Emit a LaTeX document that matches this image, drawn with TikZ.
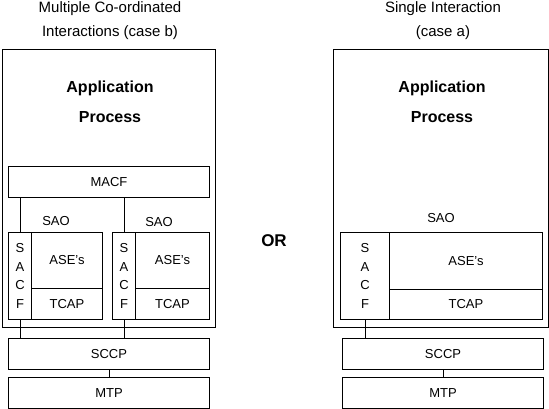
\documentclass[tikz,border=0pt]{standalone}
\usepackage{fontspec}
\setmainfont{Liberation Sans}
\usetikzlibrary{positioning}
\tikzset{
  layer box/.style={
    draw,
    line width=1pt,
    rectangle,
    inner sep=0pt,
    anchor=north west,
    font=\fontsize{13}{15}\selectfont
  },
  title text/.style={
    align=center,
    font=\fontsize{15}{24}\selectfont
  },
  ap text/.style={
    align=center,
    font=\fontsize{16}{30}\selectfont\bfseries
  },
  sao text/.style={
    font=\fontsize{13}{15}\selectfont
  },
  link/.style={
    line width=1pt
  }
}
\begin{document}
\begin{tikzpicture}[x=1pt, y=-1pt]
    % 画布大小
    \useasboundingbox (0,0) rectangle (549,409);

    % 标题
    \node[title text] (titleL) at (110,21) {Multiple Co-ordinated\\Interactions (case b)};
    \node[title text] (titleR) at (443,21) {Single Interaction\\(case a)};

    % 左侧：case b
    \node[layer box, minimum width=213pt, minimum height=278pt] (apL) at (2,49) {};
    \node[ap text] (aptextL) at (110,102) {Application\\Process};
    \node[layer box, minimum width=201pt, minimum height=31pt] (macf) at (8,166) {MACF};

    \node[layer box, minimum width=23pt, minimum height=87pt, align=center,
          font=\fontsize{13}{18.5}\selectfont] (sacfL1) at (8,232) {S\\A\\C\\F};
    \node[layer box, minimum width=71pt, minimum height=56pt] (aseL1) at (31,232) {ASE's};
    \node[layer box, minimum width=71pt, minimum height=31pt] (tcapL1) at (31,288) {TCAP};

    \node[layer box, minimum width=23pt, minimum height=87pt, align=center,
          font=\fontsize{13}{18.5}\selectfont] (sacfL2) at (112,232) {S\\A\\C\\F};
    \node[layer box, minimum width=74pt, minimum height=56pt] (aseL2) at (135,232) {ASE's};
    \node[layer box, minimum width=74pt, minimum height=31pt] (tcapL2) at (135,288) {TCAP};

    \node[sao text] (saoL1) at (56,221) {SAO};
    \node[sao text] (saoL2) at (159,222) {SAO};

    \node[layer box, minimum width=201pt, minimum height=31pt] (sccpL) at (8,338) {SCCP};
    \node[layer box, minimum width=201pt, minimum height=31pt] (mtpL) at (8,377) {MTP};

    \draw[link] (sacfL1.north) -- (sacfL1.north |- macf.south);
    \draw[link] (sacfL2.north) -- (sacfL2.north |- macf.south);
    \draw[link] (sacfL1.south) -- (sacfL1.south |- sccpL.north);
    \draw[link] (sacfL2.south) -- (sacfL2.south |- sccpL.north);
    \draw[link] (sccpL.south) -- (mtpL.north);

    % 中间
    \node[font=\fontsize{17}{20}\selectfont\bfseries] (orword) at (274,241) {OR};

    % 右侧：case a
    \node[layer box, minimum width=215pt, minimum height=278pt] (apR) at (333,49) {};
    \node[ap text] (aptextR) at (442,102) {Application\\Process};
    \node[sao text] (saoR) at (441,218) {SAO};

    \node[layer box, minimum width=49pt, minimum height=87pt, align=center,
          font=\fontsize{13}{18.5}\selectfont] (sacfR) at (340,232) {S\\A\\C\\F};
    \node[layer box, minimum width=153pt, minimum height=57pt] (aseR) at (389,232) {ASE's};
    \node[layer box, minimum width=153pt, minimum height=30pt] (tcapR) at (389,289) {TCAP};

    \node[layer box, minimum width=201pt, minimum height=31pt] (sccpR) at (342,338) {SCCP};
    \node[layer box, minimum width=201pt, minimum height=31pt] (mtpR) at (342,377) {MTP};

    \draw[link] (sacfR.south) -- (sacfR.south |- sccpR.north);
    \draw[link] (sccpR.south) -- (mtpR.north);

  \end{tikzpicture}
\end{document}
